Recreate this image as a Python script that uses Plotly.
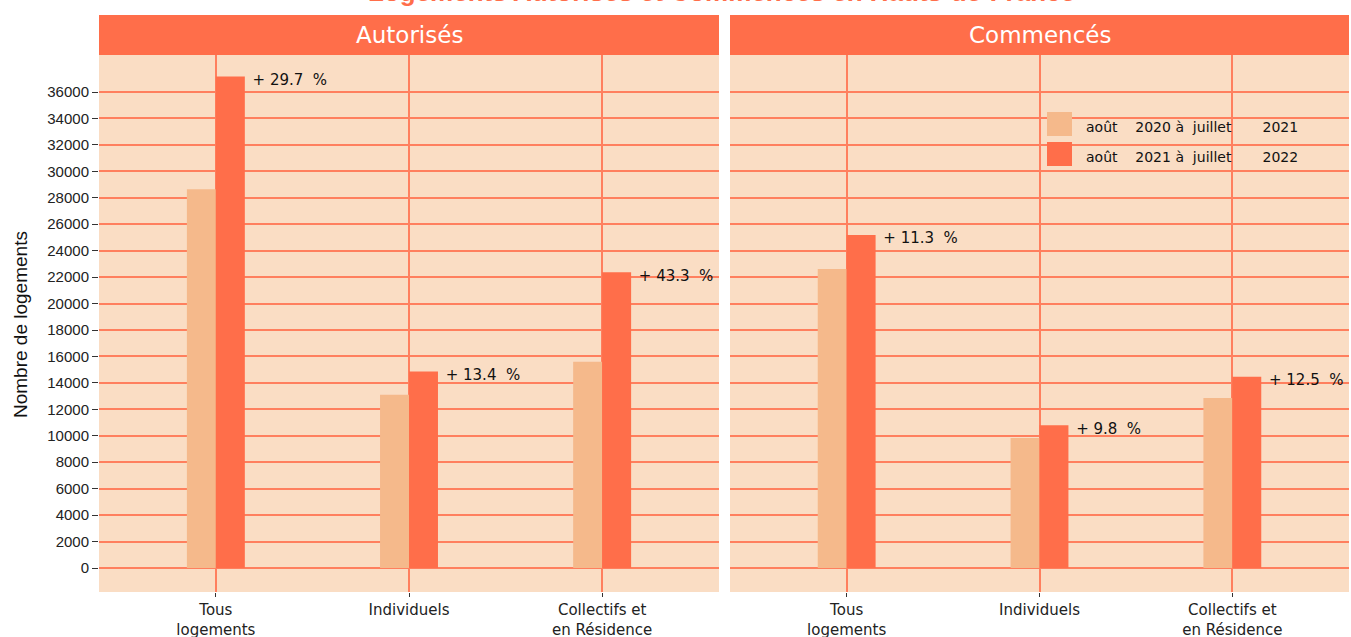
import plotly.graph_objects as go

title_text = "Logements Autorisés et Commencés en Hauts-de-France"
panels = ["Autorisés", "Commencés"]
categories = ["Tous<br>logements", "Individuels", "Collectifs et<br>en Résidence"]
series_names = ["août    2020 à  juillet       2021",
                "août    2021 à  juillet       2022"]
aut_2021 = [28650, 13100, 15600]
aut_2022 = [37170, 14860, 22360]
com_2021 = [22620, 9830, 12860]
com_2022 = [25180, 10800, 14470]
aut_pct = ["+ 29.7  %", "+ 13.4  %", "+ 43.3  %"]
com_pct = ["+ 11.3  %", "+ 9.8  %", "+ 12.5  %"]
y_ticks = list(range(0, 36001, 2000))
y_ticktext = [str(v) for v in y_ticks]

c_old = "#F5B98B"
c_new = "#FF6E4A"
bg = "#FADDC4"
grid = "#FF7F5E"
FONT = "Liberation Sans, Arial"
WFONT = "DejaVu Sans, Verdana"

W, H = 1351, 637
ML, MR, MT, MB = 99, 2, 55, 45
PW, PH = W - ML - MR, H - MT - MB


def nb(s):
    return s.replace(" ", "\u00a0")


fig = go.Figure()
xpos = [0, 1, 2]
data = [(aut_2021, aut_2022, aut_pct, "x", "y"), (com_2021, com_2022, com_pct, "x2", "y2")]
for i, (old, new, pct, xa, ya) in enumerate(data):
    fig.add_trace(go.Bar(x=xpos, y=old, name=series_names[0], marker_color=c_old,
                         marker_line_width=0, xaxis=xa, yaxis=ya, offset=-0.15, width=0.15,
                         showlegend=False))
    fig.add_trace(go.Bar(x=xpos, y=new, name=series_names[1], marker_color=c_new,
                         marker_line_width=0, xaxis=xa, yaxis=ya, offset=0.0, width=0.15,
                         showlegend=False))
    fig.add_trace(go.Scatter(x=[p + 0.19 for p in xpos], y=[v - 350 for v in new], mode="text",
                             text=[nb(t) for t in pct],
                             textposition="middle right", cliponaxis=True,
                             textfont=dict(family=WFONT, size=15, color="#111"),
                             xaxis=xa, yaxis=ya, showlegend=False, hoverinfo="skip"))

yax = dict(range=[-1815, 38800], tickvals=y_ticks, ticktext=y_ticktext, showgrid=True,
           gridcolor=grid, gridwidth=1.6, zeroline=False, ticks="outside", ticklen=6,
           tickcolor="#333", tickfont=dict(family=FONT, size=15, color="#222"), fixedrange=True)
xax = dict(range=[-0.605, 2.605], tickvals=xpos, ticktext=categories, showgrid=True,
           gridcolor=grid, gridwidth=1.6, zeroline=False, ticks="outside", ticklen=4,
           tickcolor="#333", tickfont=dict(family=WFONT, size=15, color="#222"))

fig.update_layout(
    width=W, height=H,
    margin=dict(l=ML, r=MR, t=MT, b=MB, autoexpand=False),
    paper_bgcolor="white", plot_bgcolor=bg,
    barmode="overlay",
    xaxis=dict(domain=[0, 620 / PW], **xax),
    xaxis2=dict(domain=[631 / PW, 1], anchor="y2", **xax),
    yaxis=dict(**yax),
    yaxis2=dict(anchor="x2", **{**yax, "showticklabels": False, "ticks": ""}),
    showlegend=False,
)

# facet strip headers
for xr, label in zip(["x domain", "x2 domain"], panels):
    fig.add_shape(type="rect", xref=xr, yref="paper", x0=0, x1=1, y0=1.0, y1=1 + 40 / PH,
                  fillcolor=c_new, line_width=0, layer="above")
    fig.add_annotation(xref=xr, yref="paper", x=0.5, y=1 + 20 / PH, text=label, showarrow=False,
                       font=dict(family=WFONT, size=23, color="white"), yanchor="middle")

# y-axis title
fig.add_annotation(xref="paper", yref="paper", x=-79 / PW, y=(592 - 324) / PH, text="Nombre de logements",
                   textangle=-90, showarrow=False, xanchor="center", yanchor="middle",
                   font=dict(family=FONT, size=19, color="#111"))

# legend (drawn inside the right panel)
leg_colors = [c_old, c_new]
leg_tops = [112, 142]
for name, col, top in zip(series_names, leg_colors, leg_tops):
    fig.add_shape(type="rect", xref="paper", yref="paper",
                  x0=(1047 - ML) / PW, x1=(1072 - ML) / PW,
                  y0=(592 - top - 24) / PH, y1=(592 - top) / PH,
                  fillcolor=col, line_width=0, layer="above")
    fig.add_annotation(xref="paper", yref="paper", x=(1084 - ML) / PW, y=(592 - top - 15) / PH,
                       text=nb(name), showarrow=False, xanchor="left", yanchor="middle",
                       font=dict(family=WFONT, size=14, color="#111"))

fig.add_annotation(xref="paper", yref="paper", x=(721 - ML) / PW, y=(592 - 9) / PH, yanchor="bottom",
                   text="<b>" + title_text + "</b>", showarrow=False,
                   font=dict(family=FONT, size=26, color=c_new))

fig.write_html("out.html", config={"displayModeBar": False},
               post_script="document.body.style.margin='0px';document.body.style.overflow='hidden';")
